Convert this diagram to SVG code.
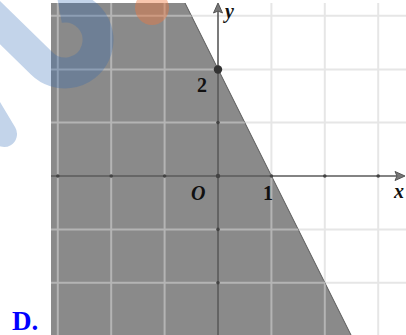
<svg xmlns="http://www.w3.org/2000/svg" width="406" height="335" viewBox="0 0 406 335">
<defs>
<style>
.gw{stroke:#e6e6e6;stroke-width:2}
.gg{stroke:#b4b4b4;stroke-width:2}
.ax{stroke:#5a5a5a;stroke-width:1.6;fill:none}
.tk{fill:#444}
.lb{font-family:"Liberation Serif","Times New Roman",serif;font-weight:bold;font-size:20px;fill:#111}
.it{font-style:italic}
</style>
<clipPath id="shade"><polygon points="51,3 185,3 351,335 51,335"/></clipPath>
<g id="grid">
<line x1="57.8" y1="3" x2="57.8" y2="335"/><line x1="111.2" y1="3" x2="111.2" y2="335"/><line x1="164.6" y1="3" x2="164.6" y2="335"/>
<line x1="271.4" y1="3" x2="271.4" y2="335"/><line x1="324.8" y1="3" x2="324.8" y2="335"/><line x1="378.2" y1="3" x2="378.2" y2="335"/>
<line x1="51" y1="15.8" x2="406" y2="15.8"/><line x1="51" y1="69.4" x2="406" y2="69.4"/><line x1="51" y1="122.6" x2="406" y2="122.6"/>
<line x1="51" y1="229.4" x2="406" y2="229.4"/><line x1="51" y1="282.8" x2="406" y2="282.8"/>
</g>
</defs>
<rect width="406" height="335" fill="#ffffff"/>
<use href="#grid" class="gw"/>
<polygon points="51,3 185,3 351,335 51,335" fill="#8a8a8a"/>
<line x1="185" y1="3" x2="351" y2="335" stroke="#5a5a5a" stroke-width="1"/>
<use href="#grid" class="gg" clip-path="url(#shade)"/>
<g id="axes">
<line class="ax" x1="51" y1="176" x2="403" y2="176"/>
<line class="ax" x1="218" y1="335" x2="218" y2="6"/>
<polygon points="218,3 213.5,13 218,11 222.5,13" fill="#777" stroke="#555" stroke-width="1"/>
<polygon points="405,176 395,171.5 397,176 395,180.5" fill="#777" stroke="#555" stroke-width="1"/>
<circle class="tk" cx="57.8" cy="176" r="1.8"/><circle class="tk" cx="111.2" cy="176" r="1.8"/><circle class="tk" cx="164.6" cy="176" r="1.8"/>
<circle class="tk" cx="218" cy="176" r="2.2"/>
<circle class="tk" cx="271.4" cy="176" r="1.8"/><circle class="tk" cx="324.8" cy="176" r="1.8"/><circle class="tk" cx="378.2" cy="176" r="1.8"/>
<circle class="tk" cx="218" cy="122.6" r="1.8"/><circle class="tk" cx="218" cy="229.4" r="1.8"/><circle class="tk" cx="218" cy="282.8" r="1.8"/>
<circle cx="218" cy="69.5" r="4.2" fill="#333"/>
</g>
<g id="labels">
<text class="lb it" x="225" y="18">y</text>
<text class="lb" x="197" y="92">2</text>
<text class="lb it" x="191" y="200">O</text>
<text class="lb" x="263" y="200">1</text>
<text class="lb it" x="394" y="198">x</text>
</g>
<g id="watermark">
<path d="M -14,9 L 41.7,63.3 A 33,33 0 1 0 59,7.5" fill="none" stroke="rgb(40,100,180)" stroke-opacity="0.28" stroke-width="31"/>
<line x1="-14" y1="104" x2="4" y2="134" stroke="rgb(40,100,180)" stroke-opacity="0.28" stroke-width="26" stroke-linecap="round"/>
<circle cx="152" cy="8" r="17" fill="rgb(240,120,60)" fill-opacity="0.42"/>
</g>
<text x="12" y="330" font-family="'Liberation Serif','Times New Roman',serif" font-weight="bold" font-size="27" fill="#0000ff">D.</text>
</svg>
